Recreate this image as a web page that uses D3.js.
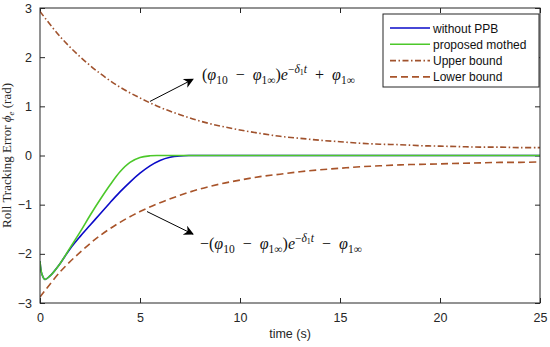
<!DOCTYPE html>
<html>
<head>
<meta charset="utf-8">
<script src="https://cdn.jsdelivr.net/npm/d3@7"></script>
<style>
body { margin:0; background:#fff; }
text { font-family: Arial, "Liberation Sans", sans-serif; }
</style>
</head>
<body>
<div id="chart"></div>
<script>
// Chart size
const margin = {top:8, right:10, bottom:44, left:40};
const width = 550 - margin.left - margin.right;
const height = 347 - margin.top - margin.bottom;

// Bounds at t = 0..25
const boundTime = d3.range(0, 26);
const upperBound = [2.93,2.42,2.01,1.67,1.39,1.17,0.98,0.83,0.70,0.60,0.52,0.45,0.39,0.35,0.31,0.28,0.25,0.23,0.22,0.20,0.19,0.18,0.17,0.17,0.16,0.16];
const lowerBound = [-2.88,-2.37,-1.97,-1.63,-1.36,-1.14,-0.96,-0.81,-0.68,-0.58,-0.50,-0.43,-0.38,-0.33,-0.29,-0.26,-0.23,-0.21,-0.19,-0.18,-0.17,-0.16,-0.15,-0.14,-0.14,-0.13];

// Tracking errors
const greenTime = [0,0.1,0.25,0.5,1,1.5,2,2.5,3,3.5,4,4.5,5,5.5,6,8,25];
const greenErr  = [-2.15,-2.42,-2.52,-2.45,-2.2,-1.88,-1.56,-1.22,-0.9,-0.6,-0.33,-0.14,-0.04,-0.006,0,0,0];
const blueTime = [0,0.1,0.25,0.5,1,1.5,2,2.5,3,3.5,4,4.5,5,5.5,6,6.5,7,7.5,9,25];
const blueErr  = [-2.15,-2.42,-2.52,-2.45,-2.2,-1.9,-1.65,-1.42,-1.19,-0.96,-0.74,-0.54,-0.36,-0.21,-0.1,-0.035,-0.008,0,0,0];

const xTicks = [0,5,10,15,20,25];
const yTicks = [-3,-2,-1,0,1,2,3];

const series = [
  {name:"without PPB", t:blueTime, v:blueErr, color:"#0a0ac8", dash:null},
  {name:"proposed mothed", t:greenTime, v:greenErr, color:"#4cc82a", dash:null},
  {name:"Upper bound", t:boundTime, v:upperBound, color:"#a0522d", dash:"6,2.5,1.5,2.5"},
  {name:"Lower bound", t:boundTime, v:lowerBound, color:"#a8542a", dash:"7,4"}
];

const svg = d3.select("#chart")
  .append("svg")
  .attr("width", width + margin.left + margin.right)
  .attr("height", height + margin.top + margin.bottom);

const g = svg.append("g")
  .attr("transform", `translate(${margin.left},${margin.top})`);

// Scales
const x = d3.scaleLinear().domain([0,25]).range([0,width]);
const y = d3.scaleLinear().domain([-3,3]).range([height,0]);

const axisColor = "#262626";
const fmt = d3.format("d");

// Axes (ticks inside, MATLAB style)
function styleAxis(sel, showLabels){
  sel.select(".domain").remove();
  sel.selectAll(".tick line").attr("stroke", axisColor);
  sel.selectAll(".tick text").attr("fill", axisColor).style("font-size","12.5px");
  if(!showLabels) sel.selectAll(".tick text").remove();
}
g.append("g").attr("transform",`translate(0,${height})`)
  .call(d3.axisBottom(x).tickValues(xTicks).tickFormat(fmt).tickSizeInner(-5).tickPadding(10))
  .call(s => styleAxis(s, true));
g.append("g")
  .call(d3.axisTop(x).tickValues(xTicks).tickSizeInner(-5))
  .call(s => styleAxis(s, false));
g.append("g")
  .call(d3.axisLeft(y).tickValues(yTicks).tickFormat(fmt).tickSizeInner(-5).tickPadding(8))
  .call(s => styleAxis(s, true));
g.append("g").attr("transform",`translate(${width},0)`)
  .call(d3.axisRight(y).tickValues(yTicks).tickSizeInner(-5))
  .call(s => styleAxis(s, false));

// Lines
const line = d3.line().x(d => x(d[0])).y(d => y(d[1])).curve(d3.curveCatmullRom.alpha(0.5));
g.append("defs").append("clipPath").attr("id","clip")
  .append("rect").attr("width", width).attr("height", height);
const plot = g.append("g").attr("clip-path","url(#clip)");
[series[3], series[2], series[0], series[1]].forEach(s => {
  plot.append("path")
    .datum(s.t.map((t,i) => [t, s.v[i]]))
    .attr("fill","none")
    .attr("stroke", s.color)
    .attr("stroke-width", 1.6)
    .attr("stroke-dasharray", s.dash)
    .attr("d", line);
});

// Box
g.append("rect").attr("width", width).attr("height", height)
  .attr("fill","none").attr("stroke", axisColor).attr("stroke-width", 1);

// Axis labels
svg.append("text")
  .attr("x", margin.left + width/2).attr("y", 338)
  .attr("text-anchor","middle").attr("fill", axisColor)
  .style("font-size","12.5px").text("time (s)");

const yl = svg.append("text")
  .attr("transform", `translate(11,${margin.top + height/2}) rotate(-90)`)
  .attr("text-anchor","middle").attr("fill", axisColor)
  .style("font-family","'Liberation Serif', 'Times New Roman', serif")
  .style("font-size","13px");
yl.append("tspan").text("Roll Tracking Error ");
yl.append("tspan").style("font-style","italic").text("ϕ");
yl.append("tspan").style("font-style","italic").style("font-size","9px").attr("dy",3).text("e");
yl.append("tspan").attr("dy",-3).text(" (rad)");

// Annotations
const defs = svg.append("defs");
defs.append("marker").attr("id","arrow")
  .attr("viewBox","0 0 10 10").attr("refX",9).attr("refY",5)
  .attr("markerWidth",13).attr("markerHeight",10).attr("orient","auto")
  .attr("markerUnits","userSpaceOnUse")
  .append("path").attr("d","M0,0 L10,5 L0,10 L3,5 Z").attr("fill","#000");

function arrow(t0,v0,t1,v1){
  g.append("line")
    .attr("x1", x(t0)).attr("y1", y(v0)).attr("x2", x(t1)).attr("y2", y(v1))
    .attr("stroke","#000").attr("stroke-width",1)
    .attr("marker-end","url(#arrow)");
}
arrow(5.5, 1.1, 7.65, 1.55);
arrow(5.35, -1.14, 7.65, -1.6);

function formula(px, py, lead){
  const t = svg.append("text").attr("x", px).attr("y", py)
    .style("font-family","'Liberation Serif', 'Times New Roman', serif")
    .style("font-size","16px").attr("fill","#111")
    .attr("xml:space","preserve");
  const it = s => t.append("tspan").style("font-style","italic").text(s);
  const rm = s => t.append("tspan").text(s);
  const sub = s => t.append("tspan").style("font-size","11.5px").attr("dy",3.5).text(s);
  const up = () => t.append("tspan").attr("dy",-3.5);
  const op = "\u2002" + (lead ? "−" : "+") + "\u2002";
  rm(lead + "(");
  it("φ"); sub("10"); up().text("\u2002−\u2002");
  it("φ"); sub("1∞"); up().text(")");
  it("e");
  t.append("tspan").style("font-size","11.5px").attr("dy",-7).text("−");
  t.append("tspan").style("font-size","11.5px").style("font-style","italic").text("δ");
  t.append("tspan").style("font-size","8px").attr("dy",2).text("1");
  t.append("tspan").style("font-size","11.5px").style("font-style","italic").attr("dy",-2).text("t");
  t.append("tspan").attr("dy",7).text(op);
  it("φ"); sub("1∞");
}
formula(202, 80, "");
formula(200, 249, "−");

// Legend
const lx = 383, ly = 14, lw = 156, lh = 73;
const legend = svg.append("g");
legend.append("rect").attr("x", lx).attr("y", ly).attr("width", lw).attr("height", lh)
  .attr("fill","#fff").attr("stroke", axisColor).attr("stroke-width",1);
series.forEach((s,i) => {
  const yy = ly + 14 + i*16.3;
  legend.append("line").attr("x1", lx+7).attr("x2", lx+47).attr("y1", yy).attr("y2", yy)
    .attr("stroke", s.color).attr("stroke-width",1.6).attr("stroke-dasharray", s.dash);
  legend.append("text").attr("x", lx+50).attr("y", yy+4.5)
    .attr("fill","#111").style("font-size","12px").text(s.name);
});
</script>
</body>
</html>
